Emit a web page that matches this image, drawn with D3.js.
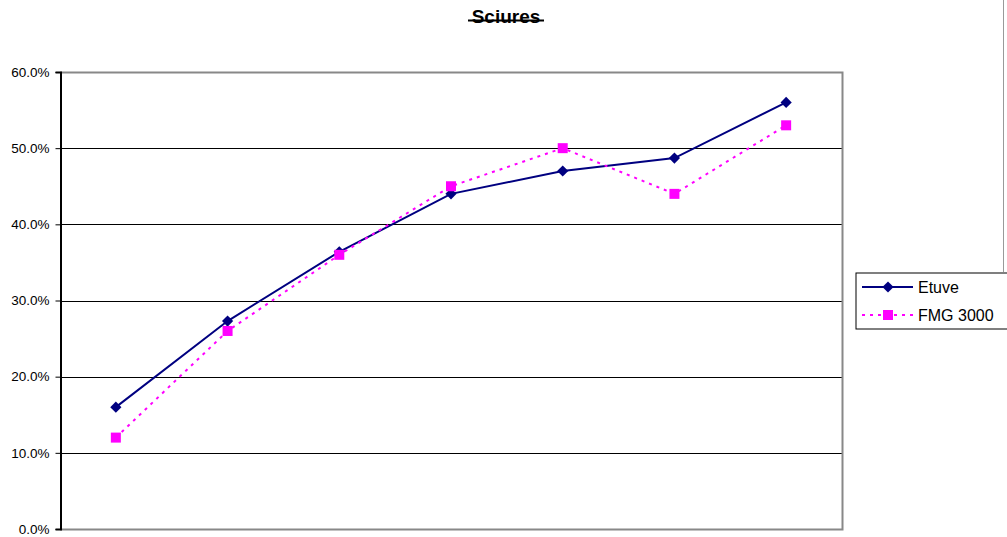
<!DOCTYPE html>
<html>
<head>
<meta charset="utf-8">
<script src="https://cdn.jsdelivr.net/npm/d3@7/dist/d3.min.js"></script>
<style>
  html, body { margin: 0; padding: 0; background: #fff; }
  svg { display: block; font-family: "Liberation Sans", Arial, sans-serif; }
</style>
</head>
<body>
<svg id="chart" width="1007" height="537"></svg>
<script>
// Moisture readings: oven-dry reference vs. FMG 3000 meter
const categories = ["1", "2", "3", "4", "5", "6", "7"];
const etuve = [0.16, 0.273, 0.364, 0.44, 0.47, 0.487, 0.56];
const fmg3000 = [0.12, 0.26, 0.36, 0.45, 0.50, 0.44, 0.53];
const yTicks = [0, 0.1, 0.2, 0.3, 0.4, 0.5, 0.6];

const series = [
  { name: "Etuve", values: etuve, color: "#000080", dash: null, marker: "diamond" },
  { name: "FMG 3000", values: fmg3000, color: "#FF00FF", dash: "3,5", marker: "square" }
];

const svg = d3.select("#chart");
const plot = { left: 60, top: 72, right: 842, bottom: 529 };

const x = d3.scaleBand().domain(categories).range([plot.left, plot.right]);
const y = d3.scaleLinear().domain([0, 0.6]).range([plot.bottom, plot.top]);
const fmt = d3.format(".1%");

// outer chart border (right edge)
svg.append("line").attr("x1", 1003.5).attr("x2", 1003.5).attr("y1", 0).attr("y2", 272)
  .attr("stroke", "#999").attr("stroke-width", 1);

// title
svg.append("text").attr("x", 506).attr("y", 23).attr("text-anchor", "middle")
  .attr("font-size", 19).attr("font-weight", "bold").text("Sciures");
svg.append("line").attr("x1", 468).attr("x2", 544).attr("y1", 20.5).attr("y2", 20.5)
  .attr("stroke", "#000").attr("stroke-width", 2);

// gridlines
svg.append("g").selectAll("line").data(yTicks.filter(d => d > 0 && d < 0.6)).join("line")
  .attr("x1", plot.left).attr("x2", plot.right)
  .attr("y1", d => Math.round(y(d)) + 0.5).attr("y2", d => Math.round(y(d)) + 0.5)
  .attr("stroke", "#000").attr("stroke-width", 1);

// plot frame (top, right, bottom)
svg.append("path")
  .attr("d", `M${plot.left},${plot.top + 0.5}H${plot.right + 0.5}V${plot.bottom + 0.5}H${plot.left}`)
  .attr("fill", "none").attr("stroke", "#888").attr("stroke-width", 2);

// y axis
const yAxis = d3.axisLeft(y).tickValues(yTicks).tickFormat(fmt).tickSize(5).tickPadding(6);
const gy = svg.append("g").attr("transform", `translate(${plot.left + 0.5},0)`).call(yAxis);
gy.select(".domain").attr("stroke", "#000").attr("stroke-width", 2);
gy.selectAll(".tick line").attr("stroke", "#000");
gy.selectAll(".tick text").attr("font-size", 13.5).attr("fill", "#000")
  .attr("font-family", "Liberation Sans, Arial, sans-serif");

const cx = d => x(d) + x.bandwidth() / 2;

function drawMarker(g, type, color) {
  if (type === "diamond") {
    g.append("path").attr("d", d3.symbol().type(d3.symbolDiamond2).size(80)())
      .attr("fill", color);
  } else {
    g.append("rect").attr("x", -5).attr("y", -5).attr("width", 10).attr("height", 10)
      .attr("fill", color);
  }
}

// series lines + markers
series.forEach(s => {
  const pts = categories.map((c, i) => [cx(c), y(s.values[i])]);
  svg.append("path").attr("d", d3.line()(pts))
    .attr("fill", "none").attr("stroke", s.color).attr("stroke-width", 2)
    .attr("stroke-dasharray", s.dash);
  pts.forEach(p => {
    const g = svg.append("g").attr("transform", `translate(${p[0]},${p[1]})`);
    drawMarker(g, s.marker, s.color);
  });
});

// legend
const lg = svg.append("g");
lg.append("rect").attr("x", 856).attr("y", 273).attr("width", 160).attr("height", 56)
  .attr("fill", "#fff").attr("stroke", "#000").attr("stroke-width", 1);
series.forEach((s, i) => {
  const ly = 287 + i * 28;
  lg.append("line").attr("x1", 862).attr("x2", 913).attr("y1", ly).attr("y2", ly)
    .attr("stroke", s.color).attr("stroke-width", 2).attr("stroke-dasharray", s.dash);
  const g = lg.append("g").attr("transform", `translate(888,${ly})`);
  drawMarker(g, s.marker, s.color);
  lg.append("text").attr("x", 918).attr("y", ly + 6).attr("font-size", 16)
    .attr("fill", "#000").text(s.name);
});
</script>
</body>
</html>
